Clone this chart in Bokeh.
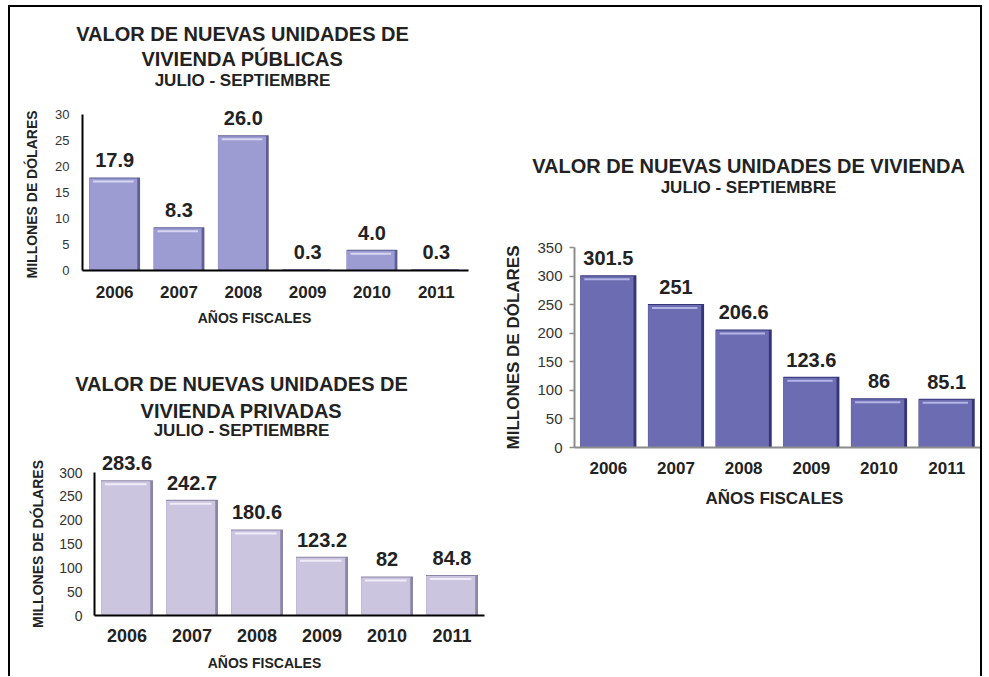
import math
from bokeh.plotting import figure
from bokeh.models import ColumnDataSource, Label, FixedTicker, Range1d, FactorRange, Spacer
from bokeh.layouts import row, column
from bokeh.transform import dodge
from bokeh.embed import file_html
from bokeh.resources import INLINE

# ---------------- data ----------------
years = ["2006", "2007", "2008", "2009", "2010", "2011"]

publicas = [17.9, 8.3, 26.0, 0.3, 4.0, 0.3]
publicas_labels = ["17.9", "8.3", "26.0", "0.3", "4.0", "0.3"]
publicas_ticks = [0, 5, 10, 15, 20, 25, 30]

privadas = [283.6, 242.7, 180.6, 123.2, 82, 84.8]
privadas_labels = ["283.6", "242.7", "180.6", "123.2", "82", "84.8"]
privadas_ticks = [0, 50, 100, 150, 200, 250, 300]

total = [301.5, 251, 206.6, 123.6, 86, 85.1]
total_labels = ["301.5", "251", "206.6", "123.6", "86", "85.1"]
total_ticks = [0, 50, 100, 150, 200, 250, 300, 350]

FONT = "Liberation Sans"
DARK = "#222222"


def make_chart(cfg):
    w, h = cfg["size"]
    ml, mr, mt, mb = cfg["borders"]
    ymax = cfg["ymax"]
    p = figure(x_range=FactorRange(*years), y_range=Range1d(0, ymax),
               width=w, height=h, output_backend="svg", toolbar_location=None,
               min_border_left=ml, min_border_right=mr,
               min_border_top=mt, min_border_bottom=mb)
    p.outline_line_color = None
    p.grid.visible = False
    p.background_fill_color = "white"
    p.border_fill_color = "white"

    frame_h = h - mt - mb
    upx = ymax / frame_h  # data units per pixel
    vals = cfg["values"]
    bw = cfg["bar_width"]
    edge_top = [v if v > 4 * upx else 0 for v in vals]
    main_top = [max(v - upx, 0) if v > 4 * upx else v for v in vals]
    hl_top = [v - 3 * upx if v > 9 * upx else 0 for v in vals]
    hl_bot = [v - 5 * upx if v > 9 * upx else 0 for v in vals]
    src = ColumnDataSource(dict(x=years, top=vals, edge_top=edge_top,
                                main_top=main_top, hl_top=hl_top, hl_bot=hl_bot))
    main, edge, hl = cfg["colors"]
    p.vbar(x="x", top="edge_top", width=bw, source=src, fill_color=edge, line_color=None)
    p.vbar(x=dodge("x", -0.02, range=p.x_range), top="main_top", width=bw - 0.045,
           source=src, fill_color=main, line_color=None)
    p.vbar(x=dodge("x", -0.02, range=p.x_range), top="hl_top", bottom="hl_bot",
           width=bw - 0.16, source=src, fill_color=hl, line_color=None)

    # value labels (those that reach above the frame go into the top panel so
    # that they are not clipped)
    vs = cfg["value_size"]
    for i, (yr, v, t) in enumerate(zip(years, vals, cfg["labels"])):
        lab = Label(x=i + 0.5, y=v, y_offset=17, text=t, text_font=FONT,
                    text_font_size=f"{vs}px", text_font_style="bold",
                    text_color=DARK, text_align="center",
                    text_baseline="alphabetic")
        if v / upx + 17 + vs > frame_h:
            p.add_layout(lab, "above")
        else:
            p.add_layout(lab)

    # axes
    ac, aw = cfg["axis_line"]
    for ax in (p.xaxis, p.yaxis):
        ax.axis_line_color = ac
        ax.axis_line_width = aw
        ax.minor_tick_line_color = None
    p.xaxis.major_tick_line_color = None
    p.xaxis.major_label_text_font = FONT
    p.xaxis.major_label_text_font_style = "bold"
    p.xaxis.major_label_text_font_size = f"{cfg['xtick_size']}px"
    p.xaxis.major_label_text_color = DARK
    p.xaxis.major_label_standoff = cfg["xtick_standoff"]

    p.yaxis.ticker = FixedTicker(ticks=cfg["ticks"])
    p.yaxis.major_label_text_font = FONT
    p.yaxis.major_label_text_font_size = f"{cfg['ytick_size']}px"
    p.yaxis.major_label_text_color = "#333333"
    if cfg["yticks_out"]:
        p.yaxis.major_tick_line_color = ac
        p.yaxis.major_tick_out = cfg["yticks_out"]
        p.yaxis.major_tick_in = 0
        p.yaxis.major_tick_line_width = 1.5
    else:
        p.yaxis.major_tick_line_color = None
        p.yaxis.major_tick_out = 0
        p.yaxis.major_tick_in = 0
    p.yaxis.major_label_standoff = cfg["ytick_standoff"]

    text, size, standoff = cfg["ylabel"]
    p.yaxis.axis_label = text
    p.yaxis.axis_label_text_font = FONT
    p.yaxis.axis_label_text_font_size = f"{size}px"
    p.yaxis.axis_label_text_font_style = "bold"
    p.yaxis.axis_label_text_color = DARK
    p.yaxis.axis_label_standoff = standoff

    # texts placed relative to the plotting frame
    fx0, fy0 = cfg["frame_origin"]  # page coords of frame left / top
    frame_w = w - ml - mr
    cx = fx0 + frame_w / 2
    for text, size, (tx, ty) in cfg["titles"]:
        p.add_layout(Label(x=3.0, y=ymax, x_offset=tx - cx, y_offset=fy0 - ty,
                           text=text, text_font=FONT, text_font_size=f"{size}px",
                           text_font_style="bold", text_color=DARK,
                           text_align="center", text_baseline="middle"), "above")
    text, size, (tx, ty) = cfg["xlabel"]
    fby = fy0 + frame_h
    p.add_layout(Label(x=3.0, y=0, x_offset=tx - cx, y_offset=fby - ty,
                       text=text, text_font=FONT, text_font_size=f"{size}px",
                       text_font_style="bold", text_color=DARK,
                       text_align="center", text_baseline="middle"), "below")
    return p


p1 = make_chart(dict(
    size=(475, 325), borders=(72, 17, 107, 62), frame_origin=(82, 114), ymax=30,
    values=publicas, labels=publicas_labels, ticks=publicas_ticks, bar_width=0.79,
    colors=("#9C9CD3", "#5E5E96", "#D6D6F0"), value_size=20,
    axis_line=("black", 2), yticks_out=0, ytick_size=13, ytick_standoff=13,
    xtick_size=17, xtick_standoff=9,
    titles=[("VALOR DE NUEVAS UNIDADES DE", 20, (242, 33)),
            ("VIVIENDA PÚBLICAS", 20, (242, 58)),
            ("JULIO - SEPTIEMBRE", 17, (242, 80))],
    ylabel=("MILLONES DE  DÓLARES", 14, 12),
    xlabel=("AÑOS FISCALES", 14, (254, 317)),
))

p2 = make_chart(dict(
    size=(479, 344), borders=(72, 17, 140, 61), frame_origin=(94, 472), ymax=300,
    values=privadas, labels=privadas_labels, ticks=privadas_ticks, bar_width=0.8,
    colors=("#CBC5E0", "#8A86A6", "#F0EDF8"), value_size=20,
    axis_line=("black", 2), yticks_out=0, ytick_size=14, ytick_standoff=12,
    xtick_size=18, xtick_standoff=7,
    titles=[("VALOR DE NUEVAS UNIDADES DE", 20, (241, 383)),
            ("VIVIENDA PRIVADAS", 20, (241, 410)),
            ("JULIO - SEPTIEMBRE", 17, (241, 430))],
    ylabel=("MILLONES DE DÓLARES", 14, 10),
    xlabel=("AÑOS FISCALES", 14, (264, 662)),
))

p3 = make_chart(dict(
    size=(479, 669), borders=(69, 0, 240, 229), frame_origin=(570, 247), ymax=350,
    values=total, labels=total_labels, ticks=total_ticks, bar_width=0.83,
    colors=("#6C6CB2", "#35357A", "#B4B4E4"), value_size=20,
    axis_line=("#8C8C8C", 2), yticks_out=5, ytick_size=15, ytick_standoff=7,
    xtick_size=17, xtick_standoff=8,
    titles=[("VALOR DE NUEVAS UNIDADES DE VIVIENDA", 20, (746, 165)),
            ("JULIO - SEPTIEMBRE", 17, (746, 187))],
    ylabel=("MILLONES DE DÓLARES", 17, 11),
    xlabel=("AÑOS FISCALES", 17, (772, 498)),
))

layout = row(column(row(p1), row(Spacer(width=12, height=344), p2)), p3)
layout.styles = {"border-top": "2px solid black",
                 "border-left": "2px solid black",
                 "border-right": "2px solid black",
                 "margin-left": "8px",
                 "margin-top": "5px"}

open("out.html", "w").write(file_html(layout, INLINE))
